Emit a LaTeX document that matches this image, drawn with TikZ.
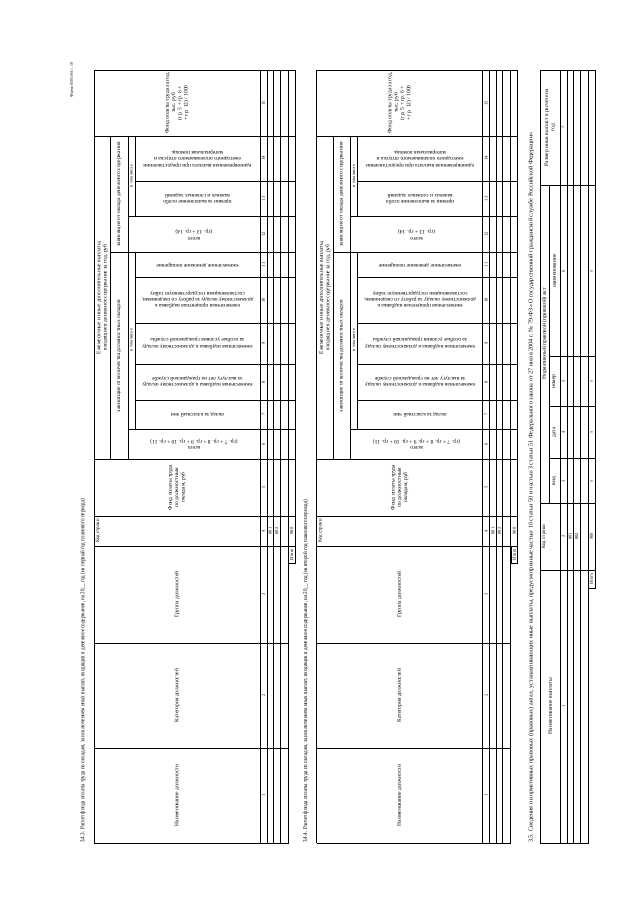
\documentclass[tikz,border=0pt]{standalone}
\usepackage{fontspec}
\setmainfont{Liberation Serif}
\tikzset{
  ln/.style={line width=0.45pt},
  bx/.style={line width=1pt},
  hd/.style={font=\fontsize{5.5}{6.3}\selectfont, align=center, inner sep=0pt},
  hv/.style={hd, rotate=90},
  hf/.style={hd, rotate=180},
  sm/.style={font=\fontsize{4.5}{5}\selectfont, inner sep=0pt, rotate=90},
  captxt/.style={font=\fontsize{6}{7}\selectfont, inner sep=0pt, rotate=90, anchor=west},
}
\newcommand\fottab[3]{%
\begin{scope}[xshift=#3]
 \node[captxt] (#1cap) at (83,843) {\scalebox{0.845}[1]{#2}};
 \draw[ln] (94,70) -- (94,843);
 \draw[ln] (110.7,136) -- (110.7,459);
 \draw[ln] (128,136) -- (128,459);
 \draw[ln] (135,136) -- (135,216.7) (135,252.7) -- (135,429);
 \draw[ln] (260,70) -- (260,843);
 \draw[ln] (273.3,70) -- (273.3,843) (280,70) -- (280,843);
 \foreach \yy in {70,136,459,516,546} \draw[ln] (94,\yy) -- (295,\yy);
 \foreach \yy in {643,748,843} \draw[ln] (94,\yy) -- (288.3,\yy);
 \foreach \yy in {181,277,323,364,400} \draw[ln] (135,\yy) -- (295,\yy);
 \foreach \yy in {216.7,429} \draw[ln] (128,\yy) -- (295,\yy);
 \draw[ln] (110.7,252.7) -- (295,252.7);
 \draw[bx] (267,70) rectangle (288.3,843);
 \draw[bx] (288.3,70) rectangle (295,546);
 \draw[ln] (288.3,546) rectangle (295,563);
 % headers
 \node[hv] (#1grp) at (102.3,297.5) {Ежемесячные и иные дополнительные выплаты,\\входящие в денежное содержание за год, руб};
 \node[hv] (#1sgb) at (119.3,194.3) {зависящие от оклада денежного содержания};
 \node[hv] (#1sga) at (119.3,356) {зависящие от количества должностных окладов};
 \node[sm] (#1vb) at (131.5,176) {в том числе};
 \node[sm] (#1va) at (131.5,340) {в том числе};
 \node[hv] (#1c15) at (177,103) {Фонд оплаты труда за год,\\тыс. руб\\(гр. 5 + гр. 6 +\\+ гр. 12) / 1000};
 \node[hf] (#1c14) at (197.5,158.5) {единовременная выплата при предоставлении\\ежегодного оплачиваемого отпуска и\\материальная помощь};
 \node[hf] (#1c13) at (197.5,198.8) {премии за выполнение особо\\важных и сложных заданий};
 \node[hf] (#1c12) at (194,234.7) {всего\\(гр. 13 + гр. 14)};
 \node[hf] (#1c11) at (197.5,264.9) {ежемесячное денежное поощрение};
 \node[hf] (#1c10) at (197.5,300) {ежемесячная процентная надбавка к\\должностному окладу за работу со сведениями,\\составляющими государственную тайну};
 \node[hf] (#1c9) at (197.5,343.5) {ежемесячная надбавка к должностному окладу\\за особые условия гражданской службы};
 \node[hf] (#1c8) at (197.5,382) {ежемесячная надбавка к должностному окладу\\за выслугу лет на гражданской службе};
 \node[hf] (#1c7) at (197.5,414.5) {оклад за классный чин};
 \node[hf] (#1c6) at (194,444) {всего\\(гр. 7 + гр. 8 + гр. 9 + гр. 10 + гр. 11)};
 \node[hv] (#1c5) at (177,487.5) {Фонд оплаты труда\\по должностным\\окладам, руб};
 \node[sm, font=\fontsize{5}{6}\selectfont] (#1c4) at (98,531) {Код строки};
 \node[hv] (#1c3) at (177,594.5) {Группа должностей};
 \node[hv] (#1c2) at (177,695.5) {Категория должностей};
 \node[hv] (#1c1) at (177,795.5) {Наименование должности};
 \foreach \n/\yy in {1/795.5,2/695.5,3/594.5,4/531,5/487.5,6/444,7/414.5,8/382,9/343.5,10/300,11/264.9,12/234.7,13/198.8,14/158.5,15/103}
   \node[sm] (#1n\n) at (263.5,\yy) {\n};
 \node[sm] (#1r1) at (270.2,531) {001};
 \node[sm] (#1r2) at (276.7,531) {002};
 \node[sm] (#1r9) at (291.7,531) {900};
 \node[sm] (#1it) at (291.7,554.5) {Итого};
\end{scope}}
\begin{document}
\begin{tikzpicture}[x=1pt,y=-1pt]
\useasboundingbox (0,0) rectangle (640,905);
\fill[white] (0,0) rectangle (640,905);
\node[sm, font=\fontsize{4}{5}\selectfont] (form) at (72,80) {Форма 0505164 с. 10};
\fottab{a}{3.4.3. Расчет фонда оплаты труда по окладам, за исключением иных выплат, входящих в денежное содержание, на 20\_\_ год (на первый год планового периода)}{0pt}
\fottab{b}{3.4.4. Расчет фонда оплаты труда по окладам, за исключением иных выплат, входящих в денежное содержание, на 20\_\_ год (на второй год планового периода)}{222.6pt}
% table 3.5
\node[captxt] (ccap) at (531,843) {\scalebox{1.03}[1]{3.5. Сведения о нормативных правовых (правовых) актах, устанавливающих иные выплаты, предусмотренные частью 10 статьи 50 и частью 3 статьи 51 Федерального закона от 27 июля 2004 г. № 79-ФЗ «О государственной гражданской службе Российской Федерации»}};
\draw[ln] (540,70) -- (540,843);
\draw[ln] (549,185) -- (549,503.3);
\draw[ln] (560,70) -- (560,843);
\draw[ln] (573.5,70) -- (573.5,843) (580,70) -- (580,843);
\foreach \yy in {70,185,503.3,570} \draw[ln] (540,\yy) -- (595,\yy);
\foreach \yy in {356.7,406.7,458.3} \draw[ln] (549,\yy) -- (595,\yy);
\draw[ln] (540,843) -- (588,843);
\draw[bx] (567,70) rectangle (588,843);
\draw[bx] (588,70) rectangle (595,570);
\draw[ln] (588,570) rectangle (595,588);
\node[hv] (cgrp) at (544.5,334) {Нормативный правовой (правовой) акт};
\node[hv] (c7) at (550,127.5) {Размер иных выплат в расчете на\\год};
\node[hv] (c6) at (554.5,271) {наименование};
\node[hv] (c5) at (554.5,381.7) {номер};
\node[hv] (c4) at (554.5,432.5) {дата};
\node[hv] (c3) at (554.5,481) {вид};
\node[sm, font=\fontsize{5}{6}\selectfont] (c2) at (544,536.6) {Код строки};
\node[hv] (c1) at (550,706) {Наименование выплаты};
\foreach \n/\yy in {1/706,2/536.6,3/481,4/432.5,5/381.7,6/271,7/127.5}
  \node[sm] (cn\n) at (563.5,\yy) {\n};
\node[sm] (cr1) at (570.2,536.6) {001};
\node[sm] (cr2) at (576.7,536.6) {002};
\node[sm] (cr9) at (591.5,536.6) {900};
\node[sm] (cit) at (591.5,579) {Итого};
\foreach \yy in {481,432.5,381.7,271}
  \node[sm] (cx\yy) at (591.5,\yy) {x};
\end{tikzpicture}
\end{document}
